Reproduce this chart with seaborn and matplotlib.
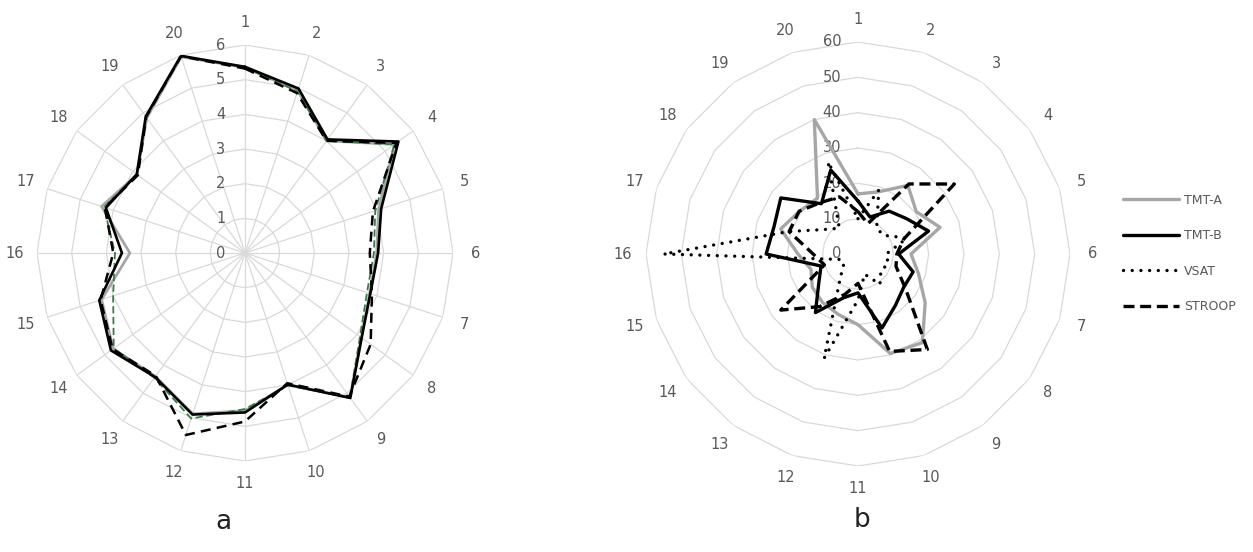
import numpy as np
import pandas as pd
import matplotlib
matplotlib.use("Agg")
import matplotlib.pyplot as plt
import seaborn as sns

sns.set_theme(style="white")
plt.rcParams['font.family'] = ['DejaVu Sans']

categories = [str(i) for i in range(1, 21)]
series_names = ["TMT-A", "TMT-B", "VSAT", "STROOP"]

# Panel a values
a_tmta = [5.35, 4.93, 4.0, 5.33, 4.05, 3.8, 3.78, 4.15, 5.15, 4.0, 4.55, 4.88, 4.4, 4.7, 4.35, 3.32, 4.35, 3.85, 4.82, 5.95]
a_tmtb = [5.37, 4.99, 4.05, 5.47, 4.13, 3.84, 3.8, 4.16, 5.17, 3.99, 4.6, 4.9, 4.42, 4.78, 4.42, 3.55, 4.22, 3.86, 4.87, 5.98]
a_vsat = [5.35, 4.9, 4.0, 5.33, 3.95, 3.72, 3.7, 4.1, 5.15, 4.02, 4.5, 5.02, 4.45, 4.68, 4.0, 3.75, 4.28, 3.85, 4.85, 5.97]
a_stroop = [5.32, 4.85, 4.0, 5.4, 3.88, 3.6, 3.85, 4.48, 5.12, 3.95, 4.86, 5.52, 4.38, 4.72, 4.38, 3.8, 4.25, 3.82, 4.85, 5.97]

# Panel b values
b_tmta = [17, 18.5, 24, 20.4, 24.4, 15, 18, 23.5, 31, 29.6, 20, 18, 17, 16, 14, 17, 23, 20.5, 19.5, 40]
b_tmtb = [15, 11, 15, 17, 21, 11.5, 16.4, 16, 18, 22, 11, 13, 20.5, 13.7, 11, 26, 25, 27, 17.6, 25]
b_vsat = [10, 19, 9, 9, 14.6, 8, 9, 8, 10.6, 6, 13, 31, 8.6, 5, 5, 55, 20.6, 11.8, 9, 27.4]
b_stroop = [12, 9, 24.5, 33.7, 13.6, 11, 11.3, 16.6, 33.4, 29, 8.3, 12, 18.4, 27, 10, 12.7, 20.5, 20.6, 18, 17]

a_ticks = [0, 1, 2, 3, 4, 5, 6]
b_ticks = [0, 10, 20, 30, 40, 50, 60]

W, H = 1253, 552
fig = plt.figure(figsize=(W / 100, H / 100), dpi=100)

angles = np.deg2rad(np.arange(len(categories)) * 360.0 / len(categories))
closed = np.append(angles, angles[0])
grid_col = "#d9d9d9"
text_col = "#595959"


def make_ax(cx, cy, rad):
    ax = fig.add_axes([(cx - rad) / W, (H - cy - rad) / H, 2 * rad / W, 2 * rad / H],
                      projection="polar")
    ax.set_theta_zero_location("N")
    ax.set_theta_direction(-1)
    ax.set_xticks([])
    ax.set_yticks([])
    ax.grid(False)
    ax.spines["polar"].set_visible(False)
    ax.patch.set_alpha(0)
    return ax


def draw_grid(ax, ticks, spokes, label_r, tick_off):
    for t in ticks[1:]:
        ax.plot(closed, [t] * len(closed), color=grid_col, lw=0.9, zorder=1)
    if spokes:
        for a in angles:
            ax.plot([a, a], [0, ticks[-1]], color=grid_col, lw=0.9, zorder=1)
    for a, c in zip(angles, categories):
        ax.text(a, label_r, c, ha="center", va="center", fontsize=10.5, color=text_col,
                clip_on=False)
    for t in ticks:
        ax.annotate(str(t), xy=(0, t), xytext=(tick_off, 0), textcoords="offset points",
                    ha="right", va="center", fontsize=10.5, color=text_col,
                    annotation_clip=False)
    ax.set_ylim(0, ticks[-1])


def draw_series(ax, vals, **kw):
    df = pd.DataFrame({"theta": closed, "value": list(vals) + [vals[0]]})
    sns.lineplot(data=df, x="theta", y="value", sort=False, estimator=None, ax=ax,
                 zorder=3, **kw)


# Panel a
axa = make_ax(245, 253, 208)
draw_grid(axa, a_ticks, True, 6.65, -14)
draw_series(axa, a_tmta, color="#a6a6a6", lw=2.0)
draw_series(axa, a_vsat, color="#3a7d44", lw=1.3, linestyle=(0, (4, 2)))
draw_series(axa, a_stroop, color="black", lw=1.8, linestyle=(0, (4, 2.5)))
draw_series(axa, a_tmtb, color="black", lw=1.9)
axa.set_xlabel("")
axa.set_ylabel("")
axa.set_ylim(0, 6)

# Panel b
axb = make_ax(858, 254, 212)
draw_grid(axb, b_ticks, False, 66.5, -12)
draw_series(axb, b_tmta, color="#a6a6a6", lw=2.4, label="TMT-A")
draw_series(axb, b_tmtb, color="black", lw=2.4, label="TMT-B")
draw_series(axb, b_vsat, color="black", lw=2.4, linestyle=(0, (0.01, 2.6)),
            dash_capstyle="round", label="VSAT")
draw_series(axb, b_stroop, color="black", lw=2.4, linestyle=(0, (3.3, 1.7)), label="STROOP")
axb.set_xlabel("")
axb.set_ylabel("")
axb.set_ylim(0, 60)

handles, labels = axb.get_legend_handles_labels()
if axb.legend_:
    axb.legend_.remove()
leg = fig.legend(handles, labels, loc="center left",
                 bbox_to_anchor=(1123 / W, 1 - 253.5 / H), frameon=False,
                 fontsize=9, handlelength=4.5, handletextpad=0.4, labelspacing=1.8,
                 borderpad=0, borderaxespad=0)
for t in leg.get_texts():
    t.set_color(text_col)

fig.text(223 / W, 1 - 522 / H, "a", fontsize=19, ha="center", va="center", color="#222222")
fig.text(862 / W, 1 - 520 / H, "b", fontsize=19, ha="center", va="center", color="#222222")

fig.savefig("out.png", dpi=100, facecolor="white")
